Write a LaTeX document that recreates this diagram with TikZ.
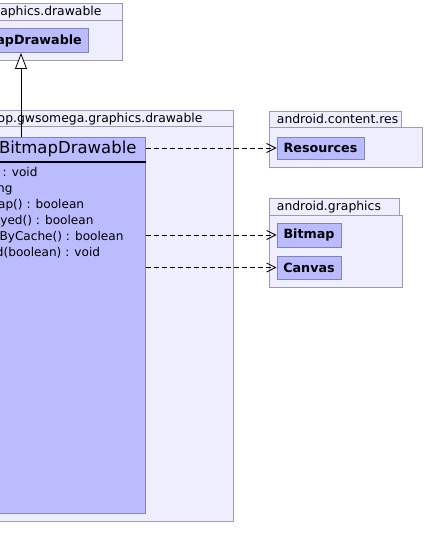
\documentclass[tikz,border=0pt]{standalone}
\usepackage{fontspec}
\setmainfont{DejaVu Sans}
\usetikzlibrary{arrows.meta}
\definecolor{pkgfill}{HTML}{EEEEFF}
\definecolor{pkgline}{HTML}{9C9CAC}
\definecolor{clsfill}{HTML}{BBBBFF}
\definecolor{clsline}{HTML}{8484B4}
\tikzset{
  pkg/.style={draw=pkgline, fill=pkgfill, line width=1pt, inner sep=0pt, anchor=north west},
  cls/.style={draw=clsline, fill=clsfill, line width=1pt, inner sep=0pt},
  clsname/.style={font=\fontsize{12.7}{14}\selectfont\bfseries, text=black},
  pkglabel/.style={font=\fontsize{12.4}{14}\selectfont, inner sep=0pt},
  member/.style={font=\fontsize{12.1}{14}\selectfont, inner sep=0pt, anchor=base east},
  dep/.style={draw=black, line width=0.8pt, dash pattern=on 5pt off 3pt, -{Straight Barb[length=9pt,width=9pt]}},
  inh/.style={draw=black, line width=0.8pt, -{Triangle[length=16pt,width=12pt,fill=white]}}
}
\begin{document}
\begin{tikzpicture}[x=1pt,y=-1pt]
\useasboundingbox (0,0) rectangle (424,559);
\fill[white] (0,0) rectangle (424,559);
\clip (0,0) rectangle (424,559);
% top package (superclass)
\node[pkg, minimum width=172, minimum height=17] (toptab) at (-50,3) {};
\node[pkg, minimum width=172, minimum height=40] (topbody) at (-50,20) {};
\node[pkglabel, anchor=base east] (toplbl) at (101.7,16) {aphics.drawable};
\node[cls, anchor=north west, minimum width=142, minimum height=24] (sup) at (-54,28) {};
\node[clsname, inner sep=0pt, anchor=base east] (suplbl) at (82,45) {apDrawable};
% main package
\node[pkg, minimum width=283, minimum height=16] (maintab) at (-50,110.5) {};
\node[pkg, minimum width=283, minimum height=394.5] (mainbody) at (-50,126.5) {};
\node[pkglabel, anchor=base east] (mainlbl) at (202.7,122.5) {op.gwsomega.graphics.drawable};
% main class
\node[cls, anchor=north west, minimum width=248, minimum height=376.3] (bd) at (-103,136.7) {};
\node[font=\fontsize{16.5}{18}\selectfont, inner sep=0pt, anchor=base east] (bdname) at (136.7,153.8) {BitmapDrawable};
\draw[black, line width=2pt] (bd.west |- 0,162.3) -- (bd.east |- 0,162.3);
\node[member] (m1) at (37.7,176.5) {: void};
\node[member] (m2) at (12.7,192.3) {ng};
\node[member] (m3) at (84.3,208.3) {ap() : boolean};
\node[member] (m4) at (93.7,224.3) {yed() : boolean};
\node[member] (m5) at (123.7,240.3) {ByCache() : boolean};
\node[member] (m6) at (100.3,256.3) {d(boolean) : void};
% android.content.res
\node[pkg, minimum width=132, minimum height=16] (restab) at (269,111) {};
\node[pkg, minimum width=153, minimum height=40] (resbody) at (269,127) {};
\node[pkglabel, anchor=base west] (reslbl) at (276.7,123.3) {android.content.res};
\node[cls, clsname, minimum width=87, minimum height=22] (res) at (320.5,148) {Resources};
% android.graphics
\node[pkg, minimum width=130, minimum height=17] (gtab) at (269,198) {};
\node[pkg, minimum width=133, minimum height=72] (gbody) at (269,215) {};
\node[pkglabel, anchor=base west] (glbl) at (276.7,210.7) {android.graphics};
\node[cls, clsname, minimum width=64, minimum height=24] (bmp) at (309,235) {Bitmap};
\node[cls, clsname, minimum width=64, minimum height=23] (cvs) at (309,267.5) {Canvas};
% connectors
\coordinate (inhx) at (21,0);
\draw[inh] (bd.north -| inhx) -- (sup.south -| inhx);
\draw[dep] (bd.east |- res.west) -- (res.west);
\draw[dep] (bd.east |- bmp.west) -- (bmp.west);
\draw[dep] (bd.east |- cvs.west) -- (cvs.west);
\end{tikzpicture}
\end{document}
